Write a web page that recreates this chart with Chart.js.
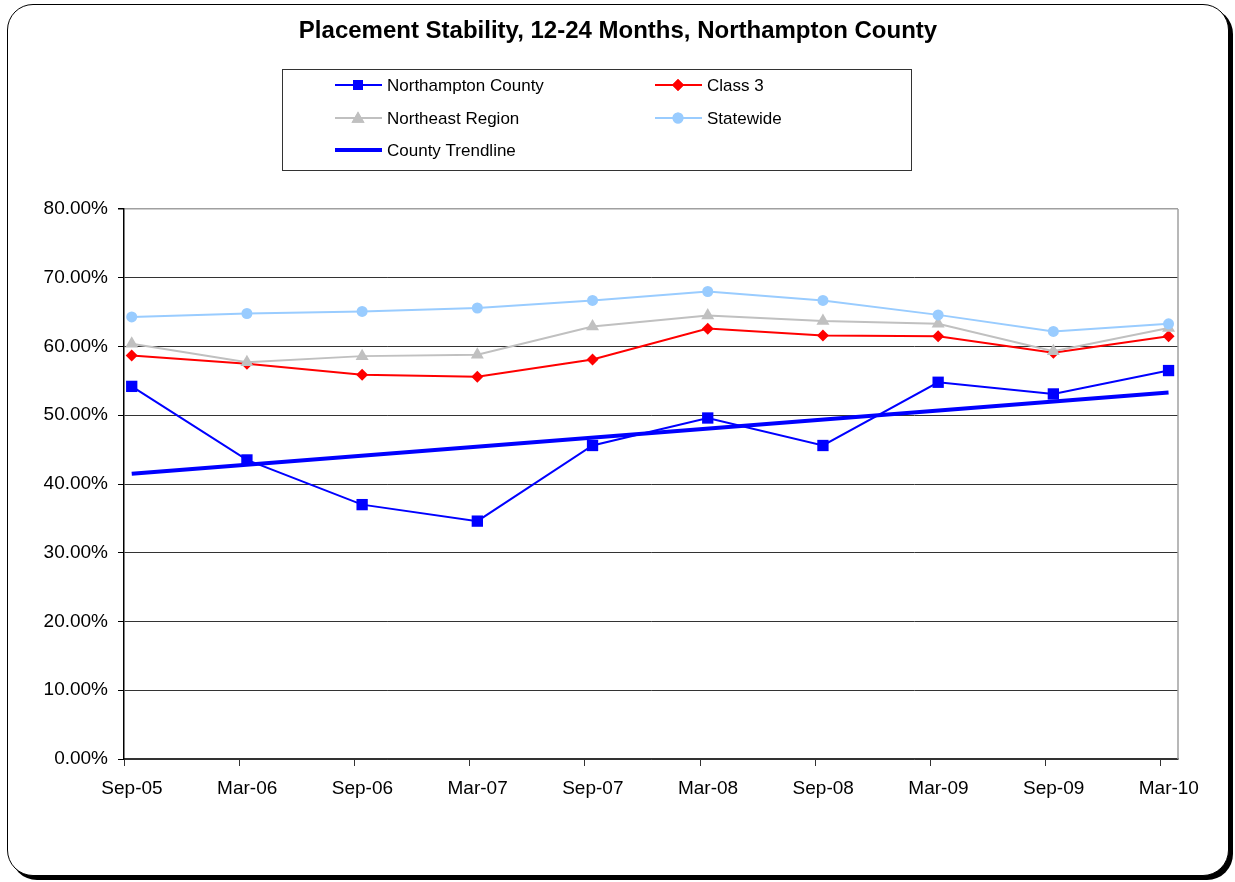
<!DOCTYPE html>
<html>
<head>
<meta charset="utf-8">
<script src="https://cdn.jsdelivr.net/npm/chart.js@4/dist/chart.umd.min.js"></script>
<style>
  html, body { margin: 0; padding: 0; background: #fff; }
  #frame {
    position: absolute; left: 7px; top: 4px; width: 1220px; height: 870px;
    border: 1.5px solid #000; border-radius: 26px;
    box-shadow: 4px 4px 0 #000; background: #fff;
  }
  #wrap { position: absolute; left: 0; top: 0; width: 1235px; height: 882px; }
</style>
</head>
<body>
<div id="frame"></div>
<div id="wrap"><canvas id="grafica" width="1235" height="882"></canvas></div>
<script>
// categories and values (percent)
const periods = ['Sep-05', 'Mar-06', 'Sep-06', 'Mar-07', 'Sep-07', 'Mar-08', 'Sep-08', 'Mar-09', 'Sep-09', 'Mar-10']
const northampton = [54.2, 43.5, 37.0, 34.6, 45.6, 49.6, 45.6, 54.8, 53.1, 56.5]
const class3 = [58.7, 57.5, 55.9, 55.6, 58.1, 62.6, 61.6, 61.5, 59.1, 61.5]
const northeast = [60.4, 57.7, 58.6, 58.8, 62.9, 64.5, 63.7, 63.3, 59.3, 62.7]
const statewide = [64.3, 64.8, 65.1, 65.6, 66.7, 68.0, 66.7, 64.6, 62.2, 63.3]
// trendline end points (first and last period)
const trendline = [41.5, 53.3]
const yTicks = [0, 10, 20, 30, 40, 50, 60, 70, 80]

const pts = arr => arr.map((v, i) => ({ x: i, y: v }))
const FONT = '"Liberation Sans", Arial, sans-serif'

const legendItems = [
  { text: 'Northampton County', color: '#0000FF', style: 'rect', r: 7, x: 335, y: 85, dy: 0, w: 2 },
  { text: 'Class 3', color: '#FF0000', style: 'rectRot', r: 6, x: 655, y: 85, dy: 0, w: 2 },
  { text: 'Northeast Region', color: '#C0C0C0', style: 'triangle', r: 7.5, x: 335, y: 118, dy: 1, w: 2 },
  { text: 'Statewide', color: '#99CCFF', style: 'circle', r: 5.5, x: 655, y: 118, dy: 0, w: 2 },
  { text: 'County Trendline', color: '#0000FF', style: false, r: 0, x: 335, y: 150, dy: 0, w: 4 },
]

const decor = {
  id: 'decor',
  beforeDatasetsDraw(chart) {
    const { ctx, chartArea } = chart
    ctx.save()
    ctx.strokeStyle = '#a0a0a0'
    ctx.lineWidth = 1.5
    ctx.beginPath()
    ctx.moveTo(chartArea.right, chartArea.top)
    ctx.lineTo(chartArea.right, chartArea.bottom)
    ctx.stroke()
    ctx.restore()
  },
  afterDraw(chart) {
    const ctx = chart.ctx
    ctx.save()
    // title
    ctx.fillStyle = '#000'
    ctx.font = 'bold 24px ' + FONT
    ctx.textAlign = 'center'
    ctx.textBaseline = 'middle'
    ctx.fillText('Placement Stability, 12-24 Months, Northampton County', 618, 31)
    // legend box
    ctx.strokeStyle = '#333'
    ctx.lineWidth = 1
    ctx.strokeRect(282.5, 69.5, 629, 101)
    ctx.font = '17px ' + FONT
    ctx.textAlign = 'left'
    legendItems.forEach(it => {
      ctx.strokeStyle = it.color
      ctx.lineWidth = it.w
      ctx.beginPath()
      ctx.moveTo(it.x, it.y)
      ctx.lineTo(it.x + 47, it.y)
      ctx.stroke()
      if (it.style) {
        ctx.fillStyle = it.color
        Chart.helpers.drawPoint(ctx, { pointStyle: it.style, radius: it.r, borderWidth: 0, rotation: 0 }, it.x + 23, it.y + it.dy)
        ctx.fill()
      }
      ctx.fillStyle = '#000'
      ctx.fillText(it.text, it.x + 52, it.y + 1)
    })
    ctx.restore()
  },
}

const serie = (label, data, color, style, r, order) => ({
  label,
  data: pts(data),
  borderColor: color,
  backgroundColor: color,
  borderWidth: 2,
  pointStyle: style,
  pointRadius: r,
  pointBorderWidth: 0,
  pointBackgroundColor: color,
  order,
})

const ctx = document.getElementById('grafica').getContext('2d')
const chart = new Chart(ctx, {
  type: 'line',
  data: {
    datasets: [
      serie('Northampton County', northampton, '#0000FF', 'rect', 8, 5),
      serie('Class 3', class3, '#FF0000', 'rectRot', 6, 4),
      serie('Northeast Region', northeast, '#C0C0C0', 'triangle', 7.5, 3),
      serie('Statewide', statewide, '#99CCFF', 'circle', 5.5, 2),
      {
        label: 'County Trendline',
        data: [{ x: 0, y: trendline[0] }, { x: periods.length - 1, y: trendline[1] }],
        borderColor: '#0000FF',
        borderWidth: 4,
        pointRadius: 0,
        order: 1,
      },
    ],
  },
  options: {
    responsive: false,
    animation: false,
    layout: { padding: { left: 0, top: 209, right: 57, bottom: 0 } },
    plugins: { legend: { display: false }, title: { display: false }, tooltip: { enabled: false } },
    scales: {
      x: {
        type: 'linear',
        min: -0.067,
        max: 9.082,
        afterBuildTicks: s => { s.ticks = periods.map((p, i) => ({ value: i - 0.067 })) },
        afterFit: s => { s.height = 123 },
        ticks: {
          callback: v => periods[Math.round(v)],
          labelOffset: 8,
          padding: 11,
          color: '#000',
          font: { family: FONT, size: 19 },
          maxRotation: 0,
          autoSkip: false,
        },
        grid: { drawOnChartArea: false, tickLength: 7, tickColor: '#333', lineWidth: 1 },
        border: { color: '#333', width: 1.5 },
      },
      y: {
        min: 0,
        max: 80,
        afterBuildTicks: s => { s.ticks = yTicks.map(v => ({ value: v })) },
        afterFit: s => { s.width = 124 },
        ticks: {
          callback: v => v.toFixed(2) + '%',
          padding: 10,
          color: '#000',
          font: { family: FONT, size: 19 },
        },
        grid: {
          color: c => (c.tick && c.tick.value === 80 ? '#a0a0a0' : '#333'),
          lineWidth: c => (c.tick && c.tick.value === 80 ? 1.5 : 1),
          tickLength: 6,
          tickColor: '#000',
        },
        border: { color: '#000', width: 1.5 },
      },
    },
  },
  plugins: [decor],
})
</script>
</body>
</html>
